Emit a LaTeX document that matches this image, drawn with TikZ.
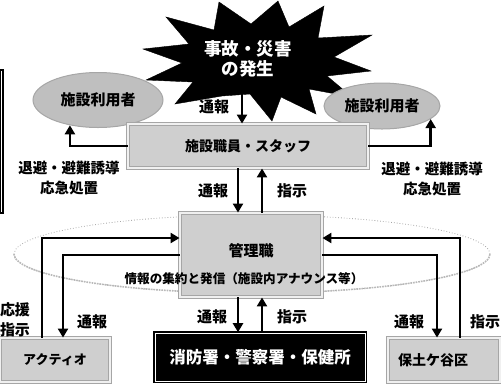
\documentclass[tikz,border=0pt]{standalone}
\usepackage{fontspec}
\setmainfont{Noto Sans CJK JP}
\usetikzlibrary{arrows.meta,shapes.geometric}

\begin{document}
\begin{tikzpicture}[x=1pt,y=-1pt,
  arr/.style={-{Triangle[length=9pt,width=10pt]},line width=2.5pt},
  lbl/.style={font=\fontsize{15}{20}\selectfont\bfseries,inner sep=0pt,align=center},
  hatchbox/.style={draw=gray!70,double=gray!12,double distance=2.5pt,line width=0.9pt,fill=gray!38,inner sep=0pt},
  blackbox/.style={draw=black,double=white,double distance=1pt,line width=1.6pt,fill=black,text=white,inner sep=0pt},
  userbox/.style={ellipse,draw=gray!70,line width=1pt,fill=gray!50,inner sep=0pt,minimum width=#1},
  userbox/.default=130pt]
\useasboundingbox (0,0) rectangle (501,384);
%% cut frame at the left edge
\draw[line width=1.5pt] (0,70)--(3,70)--(3,213)--(0,213);
\draw[line width=0.6pt] (0.6,70)--(0.6,213);
%% burst
\draw[fill=black] (219,2)--(251,24)--(278,1)--(289,27)--(324,6)--(318,38)--(372,35)--(334,57)--(371,71)--(327,76)--(352,97)--(309,89)--(316,114)--(281,97)--(272,121)--(250,94)--(222,96)--(175,104)--(193,82)--(146,80)--(182,63)--(143,49)--(189,44)--(166,17)--(214,30)--cycle;
\node[lbl,text=white,font=\fontsize{17.5}{20}\selectfont\bfseries] (accident) at (248,59) {事故・災害\\の発生};
\coordinate (burstfoot) at (242,94);
%% the dotted ring round the manager
\draw[dotted,gray!70,line width=0.8pt] (252,254) ellipse [x radius=238pt,y radius=39pt];
\draw[densely dotted,gray!55,line width=1.6pt] (14,254) arc [start angle=180,end angle=360,x radius=238pt,y radius=39pt];
%% nodes
\node[userbox,minimum height=55pt,font=\fontsize{15}{18}\selectfont\bfseries] (userL) at (98,100) {施設利用者};
\node[userbox=116pt,minimum height=46pt,font=\fontsize{15}{18}\selectfont\bfseries] (userR) at (382,106) {施設利用者};
\node[hatchbox,minimum width=240pt,minimum height=44pt,font=\fontsize{14}{17}\selectfont\bfseries] (staff) at (248,146) {施設職員・スタッフ};
\node[hatchbox,minimum width=142pt,minimum height=84pt,font=\fontsize{15}{18}\selectfont\bfseries] (mgr) at (251,255) {\raisebox{9pt}{管理職}};
\node[lbl,font=\fontsize{12.6}{15}\selectfont\bfseries] (info) at (244,279) {情報の集約と発信（施設内アナウンス等）};
\node[hatchbox,minimum width=110pt,minimum height=44pt,font=\fontsize{13}{16}\selectfont\bfseries] (actio) at (55,360) {アクティオ};
\node[blackbox,minimum width=210pt,minimum height=48pt,font=\fontsize{16.5}{19}\selectfont\bfseries] (fire) at (260,357) {消防署・警察署・保健所};
\node[hatchbox,minimum width=112pt,minimum height=44pt,font=\fontsize{14}{17}\selectfont\bfseries] (hodo) at (444,360) {\hspace*{-22pt}保土ケ谷区};
%% connectors
\draw[arr] (burstfoot) -- (burstfoot |- staff.north);
\draw[arr] (staff.west) -| (userL.-138);
\draw[arr] (staff.east) -| (userR.-15);
\draw[arr] (238,0 |- staff.south) -- (238,0 |- mgr.north);
\draw[arr] (262,0 |- mgr.north) -- (262,0 |- staff.south);
\draw[arr] (238,0 |- mgr.south) -- (238,0 |- fire.north);
\draw[arr] (262,0 |- fire.north) -- (262,0 |- mgr.south);
\draw[arr] ([xshift=-13pt]actio.north) |- ([yshift=17pt]mgr.west);
\draw[arr] (mgr.west) -| ([xshift=8pt]actio.north);
\draw[arr] (mgr.east) -| ([xshift=-7pt]hodo.north);
\draw[arr] ([xshift=16pt]hodo.north) |- ([yshift=17pt]mgr.east);
%% labels
\node[lbl] (rep0) at (214,107) {通報};
\node[lbl,font=\fontsize{14.5}{20}\selectfont\bfseries] (evacL) at (69,178) {退避・避難誘導\\応急処置};
\node[lbl,font=\fontsize{14.5}{20}\selectfont\bfseries] (evacR) at (432,179) {退避・避難誘導\\応急処置};
\node[lbl] (rep1) at (213,191) {通報};
\node[lbl] (ord1) at (292,191) {指示};
\node[lbl] (help) at (15,320) {応援\\指示};
\node[lbl] (rep2) at (92,322) {通報};
\node[lbl] (rep3) at (212,317) {通報};
\node[lbl] (ord3) at (292,317) {指示};
\node[lbl] (rep4) at (409,322) {通報};
\node[lbl] (ord4) at (485,322) {指示};
\end{tikzpicture}
\end{document}
